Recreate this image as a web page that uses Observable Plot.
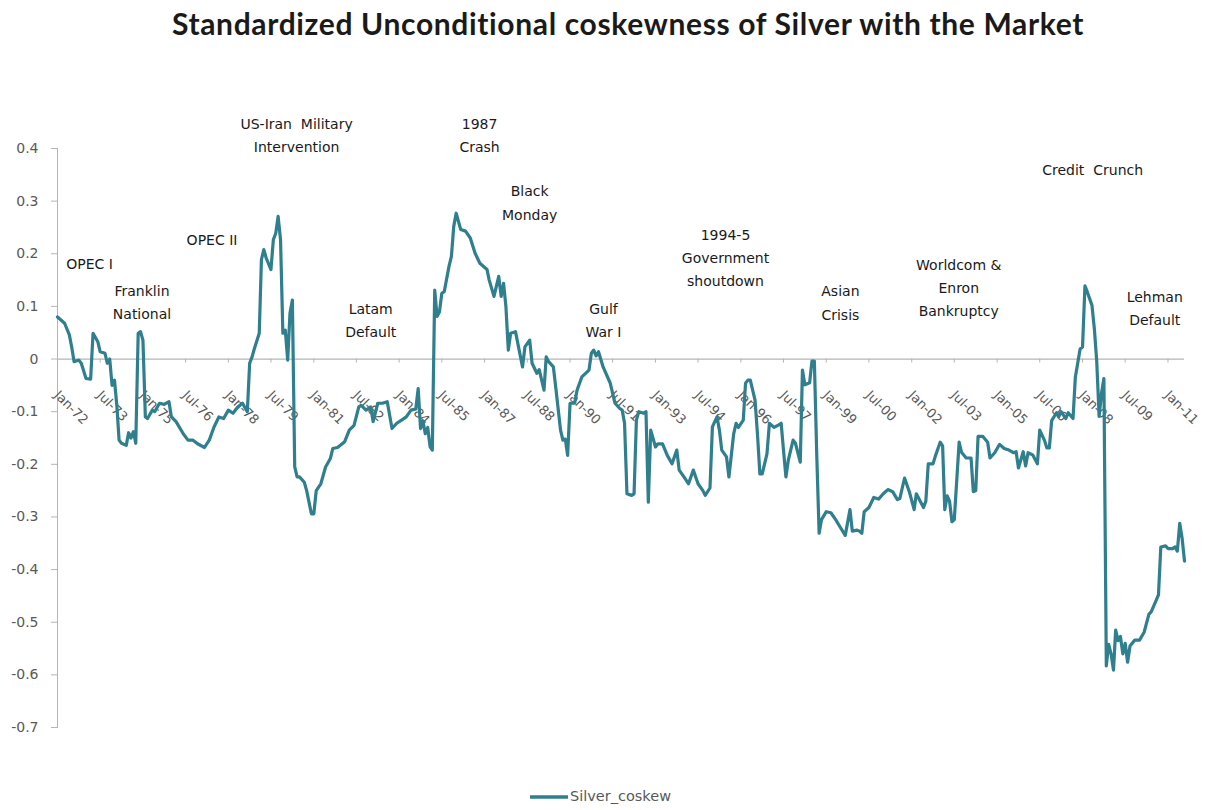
<!DOCTYPE html>
<html>
<head>
<meta charset="utf-8">
<script src="https://cdn.jsdelivr.net/npm/d3@7"></script>
<script src="https://cdn.jsdelivr.net/npm/@observablehq/plot@0.6"></script>
<style>
  html, body { margin: 0; padding: 0; background: #fff; }
  #wrap { position: relative; width: 1214px; height: 810px; overflow: hidden; }
  #title { position: absolute; top: 5px; left: 628px; transform: translateX(-50%); white-space: nowrap;
           font-family: Lato, "Open Sans", sans-serif; font-weight: 700; font-size: 30px; letter-spacing: 0.65px;
           color: #1a1a1a; line-height: 36px; }
  #chart { position: absolute; top: 50px; left: 0; }
  #legend { position: absolute; top: 786px; left: 530px; display: flex; align-items: center;
            font-family: "DejaVu Sans", sans-serif; font-size: 14.5px; color: #595959; }
</style>
</head>
<body>
<div id="wrap">
  <div id="title">Standardized Unconditional coskewness of Silver with the Market</div>
  <div id="chart"></div>
  <div id="legend"><svg width="40" height="20"><line x1="0" x2="38" y1="11" y2="11" stroke="#2f7f8e" stroke-width="3.5"></line></svg><span>Silver_coskew</span></div>
</div>
<script>
// Monthly dates (YYYY-MM) and coskewness values
const dates = [
"1972-01","1972-04","1972-06","1972-07","1972-08","1972-10","1972-11","1973-01","1973-03","1973-04",
"1973-06","1973-07","1973-09","1973-10","1973-11","1973-12","1974-01","1974-02","1974-03","1974-04",
"1974-06","1974-07","1974-08","1974-09","1974-10","1974-11","1974-12","1975-01","1975-02","1975-03",
"1975-05","1975-06","1975-08","1975-10","1975-12","1976-01","1976-03","1976-06","1976-08","1976-10",
"1976-12","1977-03","1977-05","1977-07","1977-09","1977-11","1978-01","1978-03","1978-05","1978-07",
"1978-09","1978-10","1978-11","1978-12","1979-02","1979-03","1979-04","1979-05","1979-07","1979-08",
"1979-09","1979-10","1979-11","1979-12","1980-01","1980-02","1980-03","1980-04","1980-05","1980-06",
"1980-07","1980-09","1980-10","1980-12","1981-01","1981-02","1981-04","1981-06","1981-08","1981-09",
"1981-11","1982-02","1982-04","1982-06","1982-08","1982-09","1982-11","1983-01","1983-02","1983-04",
"1983-06","1983-08","1983-10","1983-12","1984-02","1984-04","1984-06","1984-08","1984-09","1984-10",
"1984-11","1984-12","1985-01","1985-02","1985-03","1985-04","1985-05","1985-06","1985-07","1985-08",
"1985-10","1985-11","1985-12","1986-01","1986-03","1986-05","1986-07","1986-09","1986-11","1987-02",
"1987-03","1987-05","1987-07","1987-08","1987-09","1987-10","1987-11","1987-12","1988-02","1988-05",
"1988-06","1988-08","1988-09","1988-11","1988-12","1989-02","1989-03","1989-04","1989-06","1989-07",
"1989-09","1989-10","1989-11","1989-12","1990-01","1990-03","1990-04","1990-06","1990-09","1990-10",
"1990-11","1990-12","1991-01","1991-03","1991-06","1991-08","1991-10","1991-11","1991-12","1992-01",
"1992-03","1992-04","1992-05","1992-06","1992-08","1992-09","1992-10","1992-11","1993-01","1993-02",
"1993-04","1993-06","1993-08","1993-10","1993-11","1994-01","1994-03","1994-05","1994-07","1994-09",
"1994-10","1994-12","1995-01","1995-03","1995-04","1995-05","1995-07","1995-08","1995-10","1995-11",
"1995-12","1996-02","1996-03","1996-04","1996-05","1996-07","1996-08","1996-09","1996-10","1996-12",
"1997-01","1997-02","1997-03","1997-05","1997-06","1997-07","1997-08","1997-09","1997-11","1997-12",
"1998-02","1998-03","1998-04","1998-06","1998-07","1998-08","1998-09","1998-10","1998-11","1999-01",
"1999-03","1999-05","1999-07","1999-09","1999-11","1999-12","2000-02","2000-03","2000-04","2000-05",
"2000-07","2000-09","2000-11","2001-01","2001-03","2001-05","2001-07","2001-08","2001-10","2001-12",
"2002-02","2002-03","2002-06","2002-07","2002-08","2002-10","2002-11","2003-01","2003-02","2003-03",
"2003-04","2003-05","2003-06","2003-07","2003-09","2003-10","2003-12","2004-02","2004-03","2004-04",
"2004-05","2004-07","2004-09","2004-10","2004-12","2005-02","2005-04","2005-06","2005-08","2005-09",
"2005-10","2005-12","2006-01","2006-02","2006-04","2006-06","2006-07","2006-09","2006-10","2006-11",
"2006-12","2007-02","2007-03","2007-04","2007-06","2007-07","2007-09","2007-10","2007-12","2008-01",
"2008-02","2008-03","2008-05","2008-06","2008-07","2008-08","2008-09","2008-10","2008-11","2008-12",
"2009-01","2009-02","2009-03","2009-04","2009-05","2009-06","2009-07","2009-08","2009-09","2009-11",
"2010-01","2010-03","2010-05","2010-06","2010-08","2010-09","2010-10","2010-12","2011-01","2011-03",
"2011-04","2011-05","2011-06","2011-07","2011-08"
];
const silverCoskew = [
0.080,0.068,0.046,0.023,-0.005,-0.002,-0.008,-0.037,-0.038,0.049,
0.033,0.014,0.011,-0.008,0.000,-0.050,-0.040,-0.090,-0.154,-0.160,
-0.164,-0.140,-0.150,-0.138,-0.160,0.049,0.052,0.036,-0.110,-0.113,
-0.097,-0.100,-0.084,-0.086,-0.081,-0.110,-0.119,-0.142,-0.154,-0.154,
-0.161,-0.168,-0.154,-0.129,-0.110,-0.113,-0.097,-0.103,-0.091,-0.084,
-0.100,-0.008,0.004,0.020,0.049,0.189,0.208,0.192,0.170,0.227,
0.239,0.271,0.227,0.049,0.055,-0.002,0.087,0.112,-0.205,-0.224,
-0.224,-0.234,-0.250,-0.294,-0.294,-0.250,-0.237,-0.205,-0.189,-0.170,
-0.168,-0.157,-0.135,-0.126,-0.091,-0.088,-0.097,-0.091,-0.119,-0.084,
-0.084,-0.081,-0.132,-0.122,-0.116,-0.110,-0.097,-0.095,-0.056,-0.132,
-0.118,-0.142,-0.130,-0.167,-0.173,0.131,0.081,0.090,0.125,0.128,
0.176,0.195,0.252,0.277,0.246,0.243,0.230,0.201,0.182,0.170,
0.150,0.119,0.157,0.119,0.144,0.100,0.017,0.049,0.052,-0.015,
0.023,0.036,-0.008,-0.027,-0.020,-0.059,0.004,-0.005,-0.015,-0.053,
-0.135,-0.154,-0.152,-0.183,-0.084,-0.084,-0.059,-0.034,-0.021,0.011,
0.017,0.006,0.014,-0.015,-0.046,-0.084,-0.094,-0.097,-0.122,-0.256,
-0.259,-0.256,-0.116,-0.100,-0.103,-0.100,-0.272,-0.135,-0.167,-0.161,
-0.161,-0.183,-0.199,-0.173,-0.211,-0.224,-0.237,-0.211,-0.237,-0.250,
-0.259,-0.245,-0.129,-0.110,-0.135,-0.173,-0.186,-0.224,-0.142,-0.122,
-0.130,-0.116,-0.046,-0.040,-0.040,-0.078,-0.142,-0.218,-0.218,-0.180,
-0.122,-0.126,-0.130,-0.125,-0.122,-0.173,-0.224,-0.192,-0.154,-0.160,
-0.196,-0.021,-0.049,-0.045,-0.004,-0.004,-0.184,-0.331,-0.305,-0.290,
-0.292,-0.305,-0.320,-0.335,-0.286,-0.327,-0.325,-0.327,-0.331,-0.290,
-0.282,-0.263,-0.266,-0.256,-0.248,-0.252,-0.267,-0.265,-0.226,-0.252,
-0.286,-0.256,-0.282,-0.270,-0.199,-0.199,-0.184,-0.158,-0.165,-0.286,
-0.260,-0.270,-0.309,-0.305,-0.158,-0.177,-0.188,-0.188,-0.252,-0.250,
-0.147,-0.147,-0.158,-0.188,-0.178,-0.162,-0.170,-0.173,-0.178,-0.176,
-0.207,-0.176,-0.203,-0.178,-0.182,-0.199,-0.135,-0.155,-0.169,-0.169,
-0.117,-0.102,-0.110,-0.100,-0.113,-0.102,-0.113,-0.034,0.019,0.023,
0.139,0.128,0.102,0.057,-0.004,-0.109,-0.064,-0.037,-0.583,-0.542,
-0.560,-0.591,-0.515,-0.535,-0.527,-0.560,-0.540,-0.576,-0.545,-0.534,
-0.534,-0.519,-0.485,-0.480,-0.459,-0.448,-0.357,-0.355,-0.360,-0.360,
-0.357,-0.365,-0.312,-0.340,-0.384
];

// x-axis tick dates (every 18 months) and y-axis ticks
const xTickDates = ["1972-01","1973-07","1975-01","1976-07","1978-01","1979-07","1981-01","1982-07","1984-01",
  "1985-07","1987-01","1988-07","1990-01","1991-07","1993-01","1994-07","1996-01","1997-07","1999-01",
  "2000-07","2002-01","2003-07","2005-01","2006-07","2008-01","2009-07","2011-01"];
const yTicks = [0.4,0.3,0.2,0.1,0,-0.1,-0.2,-0.3,-0.4,-0.5,-0.6,-0.7];

// Event annotations: label, date, value
const eventLabels = ["OPEC I","Franklin\nNational","OPEC II","US-Iran  Military\nIntervention","Latam\nDefault",
  "1987\nCrash","Black\nMonday","Gulf\nWar I","1994-5\nGovernment\nshoutdown","Asian\nCrisis",
  "Worldcom &\nEnron\nBankruptcy","Credit  Crunch","Lehman\nDefault"];
const eventDates = ["1973-02-15","1974-12-20","1977-06-05","1980-05-25","1983-01-01",
  "1986-10-28","1988-08-01","1991-03-06","1995-06-18","1999-07-01",
  "2003-08-27","2008-05-10","2010-07-15"];
const eventValues = [0.185,0.112,0.230,0.430,0.077,0.429,0.301,0.078,0.196,0.111,0.139,0.364,0.101];

const parseMonth = d3.utcParse("%Y-%m");
const parseDay = d3.utcParse("%Y-%m-%d");
const series = dates.map((d, i) => ({date: parseMonth(d), value: silverCoskew[i]}));
const ticksX = xTickDates.map(parseMonth);
const events = eventLabels.map((t, i) => ({text: t, date: parseDay(eventDates[i]), value: eventValues[i]}));
const fmtX = d3.utcFormat("%b-%y");
const fmtY = d => (Math.abs(d) < 1e-9 ? "0" : d.toFixed(1));

const axisGrey = "#b5b5b5";
const labelGrey = "#595959";
const lineColor = "#2f7f8e";

const chart = Plot.plot({
  width: 1214,
  height: 730,
  marginLeft: 57,
  marginRight: 30,
  marginTop: 98,
  marginBottom: 53,
  style: {fontFamily: "'DejaVu Sans', sans-serif", background: "white"},
  x: {type: "utc", domain: [parseMonth("1972-01"), parseMonth("2011-08")], axis: null},
  y: {domain: [-0.7, 0.4], axis: null},
  marks: [
    Plot.frame({anchor: "left", stroke: axisGrey}),
    Plot.axisY(yTicks, {anchor: "left", tickSize: 6, tickPadding: 13, tickFormat: fmtY,
      fontSize: 14, stroke: axisGrey, fill: labelGrey, label: null}),
    Plot.ruleY([0], {stroke: axisGrey, strokeWidth: 1.2}),
    Plot.ruleX(ticksX, {x: d => d, y1: () => 0, y2: () => 0, insetBottom: -4, stroke: axisGrey}),
    Plot.text(ticksX, {x: d => d, y: () => 0, text: fmtX, rotate: 45, textAnchor: "start",
      dy: 34, dx: -1, fontSize: 13, fill: labelGrey}),
    Plot.line(series, {x: "date", y: "value", stroke: lineColor, strokeWidth: 3.2, strokeLinejoin: "round"}),
    Plot.text(events, {x: "date", y: "value", text: "text", fontSize: 14, fill: "#1a1a1a",
      lineHeight: 1.65, lineAnchor: "middle", textAnchor: "middle"})
  ]
});
document.getElementById("chart").appendChild(chart);
</script>
</body>
</html>
